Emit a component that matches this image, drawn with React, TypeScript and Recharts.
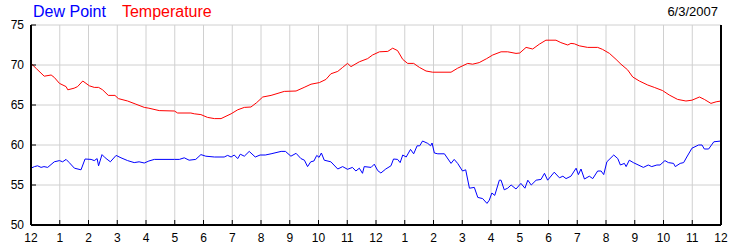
import { LineChart, Line, XAxis, YAxis, CartesianGrid } from "recharts";

// hour of day (0-24) and reading
const temperature: [number, number][] = [
  [0, 70.2], [0.2, 69.5], [0.46, 68.6], [0.7, 68.75], [0.81, 68.45], [0.99, 67.7],
  [1.22, 67.3], [1.28, 66.9], [1.5, 67.1], [1.62, 67.3], [1.8, 68.0], [2.03, 67.4],
  [2.2, 67.2], [2.35, 67.2], [2.49, 66.9], [2.69, 66.2], [2.92, 66.2], [3.04, 65.8],
  [3.36, 65.5], [3.65, 65.1], [3.94, 64.7], [4.1, 64.6], [4.46, 64.3], [4.99, 64.25],
  [5.1, 64.0], [5.56, 64.0], [5.68, 63.9], [5.91, 63.8], [6.14, 63.45], [6.38, 63.3],
  [6.61, 63.3], [6.96, 63.9], [7.19, 64.4], [7.42, 64.7], [7.65, 64.75], [7.85, 65.3],
  [8.06, 66.0], [8.35, 66.2], [8.81, 66.7], [9.22, 66.75], [9.5, 67.2], [9.74, 67.6],
  [10.03, 67.8], [10.26, 68.2], [10.43, 68.9], [10.67, 69.2], [10.84, 69.7], [11.01, 70.2],
  [11.13, 69.8], [11.42, 70.4], [11.71, 70.8], [11.88, 71.25], [12.12, 71.65], [12.41, 71.7],
  [12.58, 72.1], [12.75, 71.8], [12.93, 70.7], [13.1, 70.2], [13.31, 70.2], [13.51, 69.7],
  [13.74, 69.25], [13.97, 69.1], [14.61, 69.1], [14.84, 69.6], [15.19, 70.2], [15.36, 70.1],
  [15.59, 70.3], [15.85, 70.8], [16.06, 71.25], [16.35, 71.65], [16.58, 71.65], [16.87, 71.45],
  [17.0, 71.5], [17.22, 72.2], [17.45, 72.0], [17.68, 72.6], [17.91, 73.1], [18.26, 73.1],
  [18.43, 72.8], [18.67, 72.5], [18.78, 72.7], [18.9, 72.65], [19.07, 72.4], [19.36, 72.2],
  [19.71, 72.2], [19.88, 71.95], [20.12, 71.45], [20.35, 70.7], [20.52, 70.1], [20.75, 69.4],
  [20.93, 68.5], [21.16, 68.0], [21.45, 67.5], [21.68, 67.2], [21.97, 66.8], [22.2, 66.25],
  [22.49, 65.7], [22.78, 65.5], [22.99, 65.6], [23.25, 66.0], [23.42, 65.7], [23.65, 65.2],
  [23.83, 65.4], [24, 65.5],
];

const dewPoint: [number, number][] = [
  [0, 57.1], [0.12, 57.3], [0.23, 57.4], [0.35, 57.2], [0.45, 57.3], [0.58, 57.2],
  [0.81, 57.9], [0.99, 58.05], [1.1, 57.9], [1.22, 58.2], [1.33, 57.8], [1.51, 57.1],
  [1.74, 56.9], [1.88, 58.25], [2.09, 58.2], [2.2, 58.05], [2.3, 58.3], [2.35, 57.4],
  [2.47, 58.8], [2.58, 58.4], [2.76, 57.9], [2.96, 58.7], [3.13, 58.4], [3.36, 58.05],
  [3.59, 57.8], [3.76, 57.9], [3.94, 57.75], [4.1, 58.0], [4.29, 58.2], [4.99, 58.2],
  [5.16, 58.2], [5.33, 58.4], [5.5, 58.1], [5.73, 58.2], [5.91, 58.8], [6.08, 58.6],
  [6.38, 58.5], [6.72, 58.5], [6.84, 58.7], [6.96, 58.5], [7.07, 58.75], [7.19, 58.3],
  [7.28, 58.85], [7.42, 58.6], [7.59, 59.2], [7.8, 58.5], [7.97, 58.75], [8.15, 58.75],
  [8.35, 58.9], [8.7, 59.2], [8.85, 59.2], [9.04, 58.6], [9.22, 58.96], [9.39, 58.3],
  [9.51, 58.1], [9.62, 57.3], [9.73, 57.9], [9.84, 58.0], [9.94, 58.7], [10.02, 58.45],
  [10.1, 59.0], [10.2, 58.1], [10.43, 57.9], [10.67, 57.0], [10.84, 57.3], [11.01, 56.96],
  [11.18, 57.2], [11.3, 56.75], [11.42, 57.1], [11.53, 56.46], [11.59, 57.3], [11.83, 57.2],
  [11.94, 57.6], [12.06, 56.8], [12.17, 56.5], [12.34, 57.0], [12.52, 57.4], [12.61, 58.25],
  [12.75, 58.2], [12.84, 57.8], [12.93, 58.75], [13.05, 58.5], [13.2, 59.45], [13.31, 58.9],
  [13.43, 59.9], [13.52, 59.9], [13.62, 60.5], [13.8, 60.2], [13.9, 59.9], [13.95, 60.25],
  [14.03, 59.0], [14.15, 58.9], [14.38, 58.9], [14.61, 57.7], [14.72, 58.2], [14.84, 57.7],
  [15.01, 56.75], [15.12, 56.9], [15.25, 54.6], [15.42, 54.7], [15.54, 53.45], [15.71, 53.3],
  [15.86, 52.7], [15.94, 53.1], [16.03, 54.0], [16.13, 53.7], [16.29, 55.6], [16.35, 55.6],
  [16.46, 54.4], [16.58, 54.6], [16.7, 55.0], [16.87, 54.5], [17.04, 55.2], [17.18, 54.6],
  [17.28, 55.6], [17.4, 55.0], [17.57, 55.6], [17.74, 55.7], [17.86, 56.46], [17.97, 55.6],
  [18.2, 56.6], [18.38, 55.9], [18.5, 56.1], [18.61, 55.8], [18.78, 56.1], [18.96, 57.1],
  [19.04, 56.3], [19.13, 57.0], [19.25, 55.75], [19.42, 56.1], [19.54, 55.8], [19.71, 56.75],
  [19.83, 56.75], [19.92, 56.3], [20.03, 57.9], [20.27, 58.75], [20.41, 58.3], [20.5, 57.5],
  [20.64, 57.7], [20.7, 57.3], [20.81, 58.1], [20.95, 57.8], [21.3, 57.2], [21.47, 57.5],
  [21.59, 57.3], [21.77, 57.5], [21.88, 57.5], [22.05, 58.05], [22.17, 57.8], [22.35, 57.7],
  [22.41, 57.3], [22.58, 57.7], [22.7, 57.8], [22.81, 58.5], [22.99, 59.6], [23.22, 60.0],
  [23.34, 60.0], [23.42, 59.5], [23.57, 59.5], [23.75, 60.4], [24, 60.5],
];

const hourLabels = [
  "12", "1", "2", "3", "4", "5", "6", "7", "8", "9", "10", "11",
  "12", "1", "2", "3", "4", "5", "6", "7", "8", "9", "10", "11", "12",
];
const hourTicks = hourLabels.map((_, i) => i);
const valueTicks = [50, 55, 60, 65, 70, 75];
const dateLabel = "6/3/2007";

const toRows = (pts: [number, number][]) => pts.map(([t, v]) => ({ t, v }));

const tickStyle = { fill: "#000", fontSize: 12 };
const axisStroke = { stroke: "#000", strokeWidth: 2 };

export default function App() {
  return (
    <div
      style={{
        position: "absolute",
        left: 0,
        top: 0,
        width: 750,
        height: 250,
        background: "#fff",
        fontFamily: "'Liberation Sans', Arial, sans-serif",
      }}
    >
      <div style={{ position: "absolute", left: 33, top: 4, fontSize: 16, lineHeight: "16px", whiteSpace: "nowrap" }}>
        <span style={{ color: "#0000ff" }}>Dew Point</span>
        <span style={{ color: "#ff0000", marginLeft: 16 }}>Temperature</span>
      </div>
      <div style={{ position: "absolute", right: 32, top: 5, fontSize: 13, lineHeight: "13px", color: "#000" }}>
        {dateLabel}
      </div>
      <LineChart width={750} height={250} margin={{ top: 25, right: 0, bottom: 0, left: 0 }}>
        <CartesianGrid stroke="#d0d0d0" strokeWidth={1} />
        <XAxis
          dataKey="t"
          type="number"
          domain={[0, 24]}
          ticks={hourTicks}
          interval={0}
          tickFormatter={(v) => hourLabels[v]}
          height={25}
          tick={tickStyle}
          tickSize={-5}
          tickMargin={13}
          tickLine={{ stroke: "#000" }}
          axisLine={axisStroke}
        />
        <XAxis
          xAxisId="top"
          orientation="top"
          type="number"
          domain={[0, 24]}
          ticks={hourTicks}
          interval={0}
          height={0}
          tick={false}
          tickSize={-5}
          tickLine={{ stroke: "#000" }}
          axisLine={axisStroke}
        />
        <YAxis
          type="number"
          domain={[50, 75]}
          ticks={valueTicks}
          interval={0}
          width={31}
          tick={tickStyle}
          tickSize={-5}
          tickMargin={12}
          tickLine={{ stroke: "#000" }}
          axisLine={axisStroke}
        />
        <YAxis
          yAxisId="right"
          orientation="right"
          type="number"
          domain={[50, 75]}
          ticks={valueTicks}
          interval={0}
          width={29}
          tick={tickStyle}
          tickSize={-5}
          tickMargin={12}
          tickLine={{ stroke: "#000" }}
          axisLine={axisStroke}
        />
        <Line
          data={toRows(dewPoint)}
          dataKey="v"
          type="linear"
          stroke="#0000ff"
          strokeWidth={1}
          dot={false}
          isAnimationActive={false}
        />
        <Line
          data={toRows(temperature)}
          dataKey="v"
          type="linear"
          stroke="#ff0000"
          strokeWidth={1}
          dot={false}
          isAnimationActive={false}
        />
      </LineChart>
    </div>
  );
}
